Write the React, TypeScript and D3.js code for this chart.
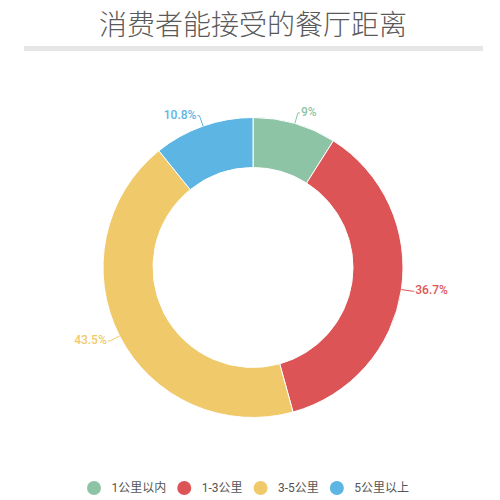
import React from "react";
import * as d3 from "d3";

const TITLE = "消费者能接受的餐厅距离";
const categories = ["1公里以内", "1-3公里", "3-5公里", "5公里以上"];
const values = [9, 36.7, 43.5, 10.8];
const labels = ["9%", "36.7%", "43.5%", "10.8%"];
const colors = ["#8dc4a6", "#dd5456", "#f0c96b", "#5db5e4"];

const W = 500;
const H = 500;
const CX = 253;
const CY = 267.5;
const R_OUT = 150;
const R_IN = 100;

const FONT = "Roboto, 'Noto Sans CJK SC', sans-serif";

function measure(text: string, font: string): number {
  if (typeof document === "undefined") return text.length * 10;
  const c = document.createElement("canvas");
  const ctx = c.getContext("2d");
  if (!ctx) return text.length * 10;
  ctx.font = font;
  return ctx.measureText(text).width;
}

export default function App() {
  const pie = d3
    .pie<number>()
    .value((d) => d)
    .sort(null);
  const arcs = pie(values);
  const arcGen = d3
    .arc<d3.PieArcDatum<number>>()
    .innerRadius(R_IN)
    .outerRadius(R_OUT);

  // legend layout
  const legendFont = `12px ${FONT}`;
  let lx = 94;
  const legendItems = categories.map((c, i) => {
    const w = measure(c, legendFont);
    const item = { cx: lx, tx: lx + 17.5, label: c, color: colors[i] };
    lx = lx + 17.5 + w + 18;
    return item;
  });

  return (
    <svg
      width={W}
      height={H}
      style={{ position: "absolute", left: 0, top: 0, background: "#fff" }}
    >
      <text
        x={CX}
        y={23}
        textAnchor="middle"
        dominantBaseline="central"
        fontFamily="'Noto Sans CJK SC', sans-serif"
        fontWeight={300}
        fontSize={28}
        fill="#5a5a5a"
      >
        {TITLE}
      </text>
      <rect x={24} y={46} width={459} height={5} fill="#e6e6e6" />

      <g transform={`translate(${CX},${CY})`}>
        {arcs.map((a, i) => (
          <path
            key={i}
            d={arcGen(a) || ""}
            fill={colors[i]}
            stroke="#fff"
            strokeWidth={1}
          />
        ))}
        {arcs.map((a, i) => {
          const mid = (a.startAngle + a.endAngle) / 2;
          const sx = Math.sin(mid);
          const sy = -Math.cos(mid);
          const p0 = [sx * R_OUT, sy * R_OUT];
          const p1 = [sx * (R_OUT + 11), sy * (R_OUT + 11)];
          const right = sx >= 0;
          const p2 = [p1[0] + (right ? 2 : -2), p1[1]];
          return (
            <g key={"l" + i}>
              <polyline
                points={`${p0[0]},${p0[1]} ${p1[0]},${p1[1]} ${p2[0]},${p2[1]}`}
                fill="none"
                stroke={colors[i]}
                strokeWidth={1}
              />
              <text
                x={p2[0] + (right ? 1 : -1)}
                y={p2[1] - 1}
                textAnchor={right ? "start" : "end"}
                dominantBaseline="central"
                fontFamily={FONT}
                fontWeight={500}
                fontSize={12}
                fill={colors[i]}
              >
                {labels[i]}
              </text>
            </g>
          );
        })}
      </g>

      {legendItems.map((it, i) => (
        <g key={"lg" + i}>
          <circle cx={it.cx} cy={488} r={7} fill={it.color} />
          <text
            x={it.tx}
            y={488}
            dominantBaseline="central"
            fontFamily={FONT}
            fontSize={12}
            fill="#555"
          >
            {it.label}
          </text>
        </g>
      ))}
    </svg>
  );
}
